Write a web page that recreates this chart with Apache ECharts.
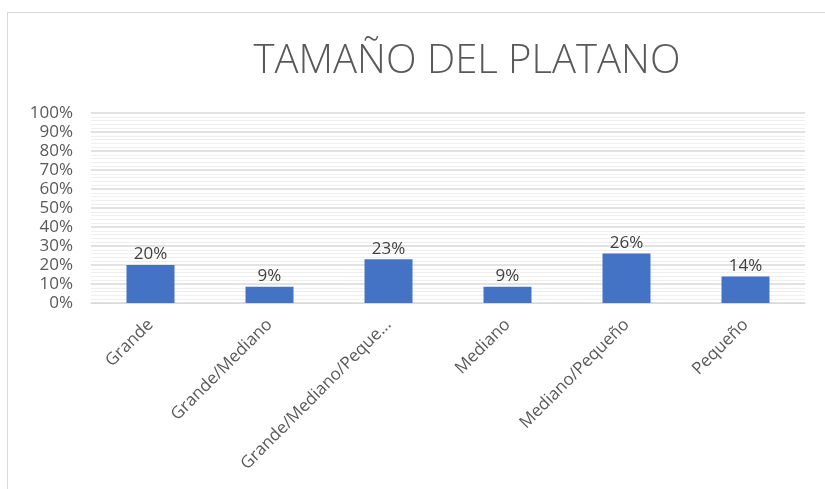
<!DOCTYPE html>
<html>
<head>
<meta charset="utf-8">
<title>TAMAÑO DEL PLATANO</title>
<script src="https://cdn.jsdelivr.net/npm/echarts@6/dist/echarts.min.js"></script>
<style>
  body { margin: 0; background: #fff; }
  #frame { position: absolute; left: 7px; top: 12px; width: 840px; height: 500px; border: 1px solid #d9d9d9; box-sizing: border-box; }
  #main { position: absolute; left: 0; top: 0; width: 825px; height: 489px; }
</style>
</head>
<body>
<div id="frame"></div>
<div id="main"></div>
<script>
  var categories = ['Grande', 'Grande/Mediano', 'Grande/Mediano/Pequeño', 'Mediano', 'Mediano/Pequeño', 'Pequeño'];
  var shares = [0.20, 0.086, 0.23, 0.086, 0.26, 0.14];

  var chart = echarts.init(document.getElementById('main'));
  chart.setOption({
    animation: false,
    title: {
      text: 'TAMAÑO DEL PLATANO',
      left: 462, top: 37, textAlign: 'center',
      textStyle: { fontFamily: 'Open Sans', fontWeight: 300, fontSize: 40, color: '#595959' }
    },
    grid: { left: 91, right: 20, top: 113, bottom: 186 },
    xAxis: {
      type: 'category',
      data: categories,
      axisLine: { lineStyle: { color: '#d9d9d9', width: 1 } },
      axisTick: { show: false },
      axisLabel: {
        rotate: 45, margin: 19, color: '#595959', fontSize: 17, fontFamily: 'Open Sans',
        formatter: function (v) { return v.length > 20 ? v.slice(0, 20) + '...' : v; }
      }
    },
    yAxis: {
      type: 'value',
      min: 0, max: 1, interval: 0.1,
      axisLine: { show: false },
      axisTick: { show: false },
      axisLabel: {
        color: '#595959', fontSize: 17, fontFamily: 'Open Sans', margin: 18,
        formatter: function (v) { return Math.round(v * 100) + '%'; }
      },
      splitLine: { lineStyle: { color: '#d9d9d9', width: 1.5 } },
      minorTick: { show: false, splitNumber: 5 },
      minorSplitLine: { show: true, lineStyle: { color: '#efefef', width: 1 } }
    },
    series: [{
      type: 'bar',
      data: shares,
      barWidth: 48,
      itemStyle: { color: '#4472c4' },
      label: {
        show: true, position: 'top', distance: 2,
        color: '#404040', fontSize: 17, fontFamily: 'Open Sans',
        formatter: function (p) { return Math.round(p.value * 100) + '%'; }
      }
    }]
  });
</script>
</body>
</html>
